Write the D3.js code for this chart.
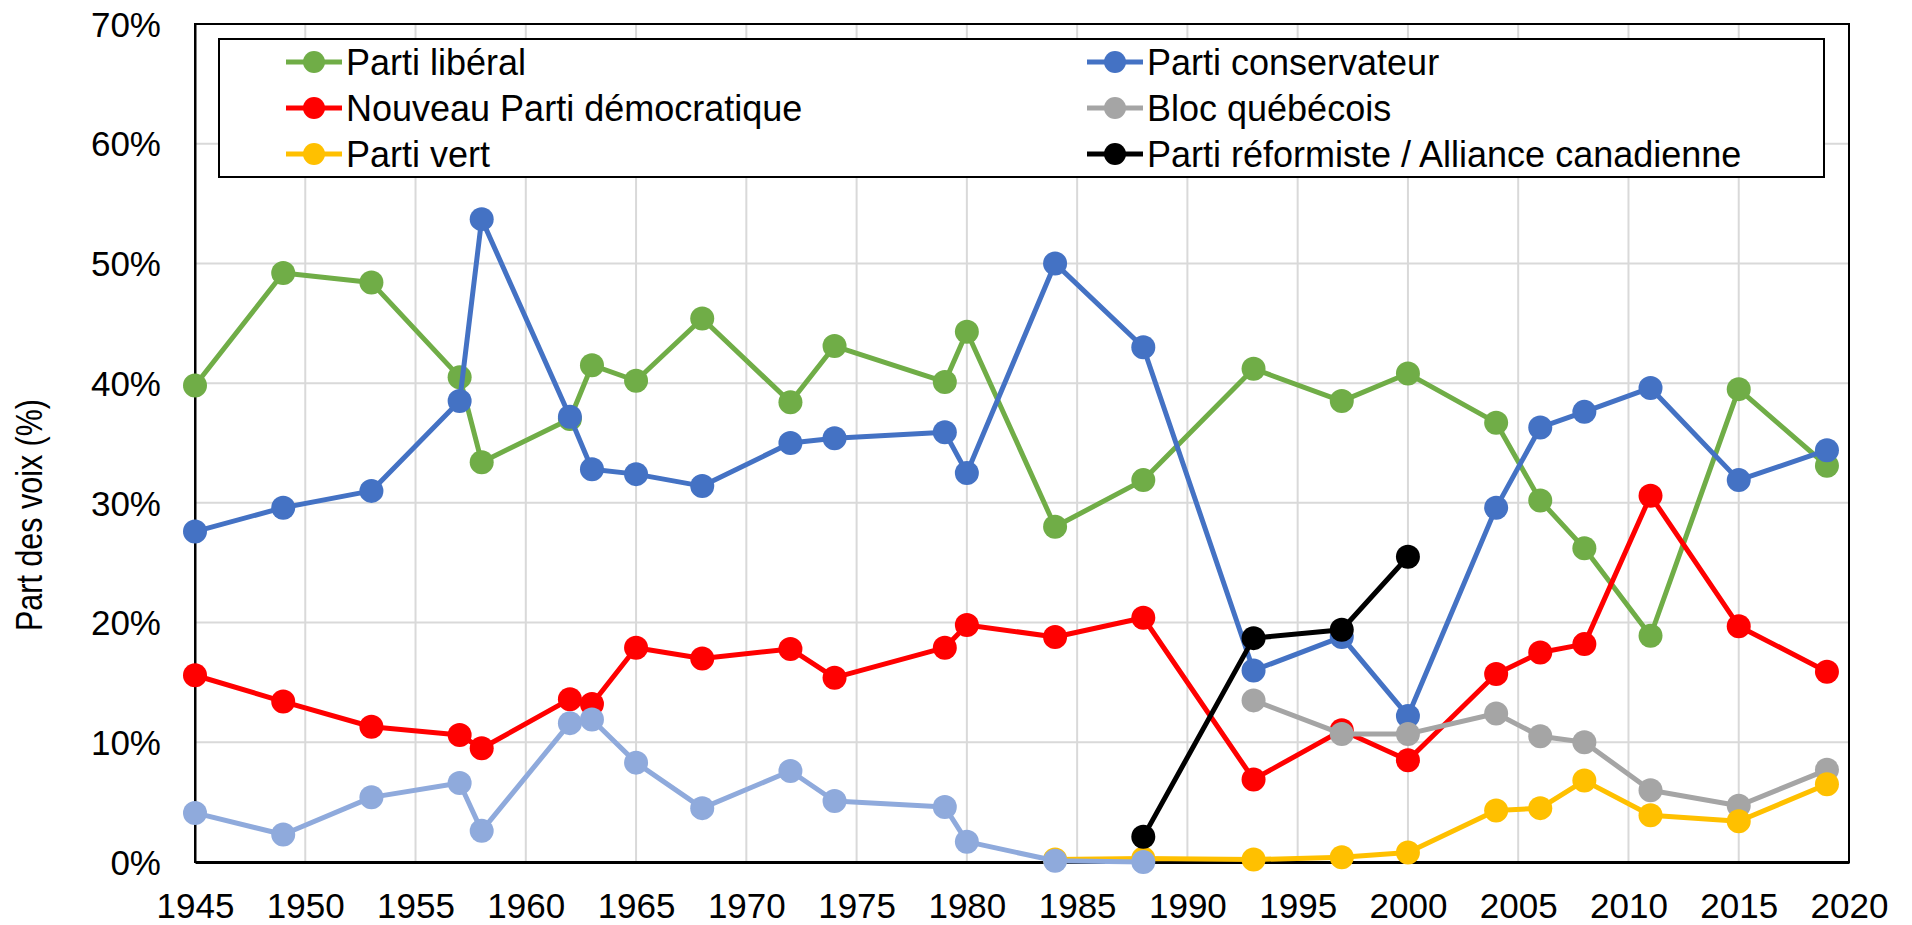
<!DOCTYPE html>
<html>
<head>
<meta charset="utf-8">
<script src="https://cdn.jsdelivr.net/npm/d3@7"></script>
<style>
    body { margin: 0; background: #fff; }
    text { font-family: "Liberation Sans", Arial, sans-serif; fill: #000; }
</style>
</head>
<body>
<div id="chart"></div>
<script>

// election years and vote shares (%)
const years = [1945, 1949, 1953, 1957, 1958, 1962, 1963, 1965, 1968, 1972, 1974, 1979, 1980, 1984, 1988, 1993, 1997, 2000, 2004, 2006, 2008, 2011, 2015, 2019]
const liberal = [39.8, 49.2, 48.4, 40.5, 33.4, 37.0, 41.5, 40.2, 45.4, 38.4, 43.1, 40.1, 44.3, 28.0, 31.9, 41.2, 38.5, 40.8, 36.7, 30.2, 26.2, 18.9, 39.5, 33.1]
const conservative = [27.6, 29.6, 31.0, 38.5, 53.7, 37.2, 32.8, 32.4, 31.4, 35.0, 35.4, 35.9, 32.5, 50.0, 43.0, 16.0, 18.8, 12.2, 29.6, 36.3, 37.6, 39.6, 31.9, 34.4]
const npd = [15.6, 13.4, 11.3, 10.6, 9.5, 13.6, 13.2, 17.9, 17.0, 17.8, 15.4, 17.9, 19.8, 18.8, 20.4, 6.9, 11.0, 8.5, 15.7, 17.5, 18.2, 30.6, 19.7, 15.9]

const blocYears = [1993, 1997, 2000, 2004, 2006, 2008, 2011, 2015, 2019]
const bloc = [13.5, 10.7, 10.7, 12.4, 10.5, 10.0, 6.0, 4.7, 7.7]

const vertYears = [1984, 1988, 1993, 1997, 2000, 2004, 2006, 2008, 2011, 2015, 2019]
const vert = [0.2, 0.3, 0.2, 0.4, 0.8, 4.3, 4.5, 6.8, 3.9, 3.4, 6.5]

const reformeYears = [1988, 1993, 1997, 2000]
const reforme = [2.1, 18.7, 19.4, 25.5]

// Crédit social / autres, not in the legend
const autresYears = [1945, 1949, 1953, 1957, 1958, 1962, 1963, 1965, 1968, 1972, 1974, 1979, 1980, 1984, 1988]
const autres = [4.1, 2.3, 5.4, 6.6, 2.6, 11.6, 11.9, 8.3, 4.5, 7.6, 5.1, 4.6, 1.7, 0.1, 0.0]

const xTicks = [1945, 1950, 1955, 1960, 1965, 1970, 1975, 1980, 1985, 1990, 1995, 2000, 2005, 2010, 2015, 2020]
const yTicks = [0, 10, 20, 30, 40, 50, 60, 70]

const series = [
    { name: "Parti libéral", x: years, y: liberal, colour: "#70ad47", col: 0, row: 0 },
    { name: "Parti conservateur", x: years, y: conservative, colour: "#4472c4", col: 1, row: 0 },
    { name: "Nouveau Parti démocratique", x: years, y: npd, colour: "#ff0000", col: 0, row: 1 },
    { name: "Bloc québécois", x: blocYears, y: bloc, colour: "#a5a5a5", col: 1, row: 1 },
    { name: "Parti vert", x: vertYears, y: vert, colour: "#ffc000", col: 0, row: 2 },
    { name: "Parti réformiste / Alliance canadienne", x: reformeYears, y: reforme, colour: "#000000", col: 1, row: 2 },
    { name: null, x: autresYears, y: autres, colour: "#8faadc" }
]

function lineChart({ element, width, height, margin }) {

    const svg = d3.select(`#${element}`)
        .html(null)
        .append("svg")
        .attr("width", width)
        .attr("height", height)

    const x = d3.scaleLinear()
        .domain([1945, 2020])
        .range([margin.left, width - margin.right])

    const y = d3.scaleLinear()
        .domain([0, 70])
        .range([height - margin.bottom, margin.top])

    // gridlines
    svg.append("g")
        .selectAll("line")
        .data(xTicks)
        .join("line")
        .attr("x1", d => x(d)).attr("x2", d => x(d))
        .attr("y1", y(0)).attr("y2", y(70))
        .attr("stroke", "#d9d9d9")
        .attr("stroke-width", 2)

    svg.append("g")
        .selectAll("line")
        .data(yTicks)
        .join("line")
        .attr("x1", x(1945)).attr("x2", x(2020))
        .attr("y1", d => y(d)).attr("y2", d => y(d))
        .attr("stroke", "#d9d9d9")
        .attr("stroke-width", 2)

    // plot frame
    svg.append("rect")
        .attr("x", x(1945))
        .attr("y", y(70))
        .attr("width", x(2020) - x(1945))
        .attr("height", y(0) - y(70))
        .attr("fill", "none")
        .attr("stroke", "#000")
        .attr("stroke-width", 2)

    // axes
    const xAxis = svg.append("g")
        .attr("transform", `translate(0,${y(0)})`)
        .call(d3.axisBottom(x)
            .tickValues(xTicks)
            .tickFormat(d3.format("d"))
            .tickSize(0)
            .tickPadding(31))
    xAxis.select(".domain").attr("stroke", "#000").attr("stroke-width", 3)
    xAxis.selectAll("text").style("font-size", "35px").attr("fill", "#000")

    const yAxis = svg.append("g")
        .attr("transform", `translate(${x(1945)},0)`)
        .call(d3.axisLeft(y)
            .tickValues(yTicks)
            .tickFormat(d => d + "%")
            .tickSize(0)
            .tickPadding(34))
    yAxis.select(".domain").attr("stroke", "#000").attr("stroke-width", 2)
    yAxis.selectAll("text").style("font-size", "35px").attr("fill", "#000").attr("dy", "0.35em")

    svg.append("text")
        .attr("transform", "translate(42,515) rotate(-90)")
        .attr("text-anchor", "middle")
        .attr("textLength", 232)
        .attr("lengthAdjust", "spacingAndGlyphs")
        .style("font-size", "36px")
        .text("Part des voix (%)")

    // series: lines then markers, later series on top
    const line = d3.line()
        .x(d => x(d[0]))
        .y(d => y(d[1]))

    series.forEach(s => {
        const pts = s.x.map((v, i) => [v, s.y[i]])
        const g = svg.append("g")
        g.append("path")
            .datum(pts)
            .attr("d", line)
            .attr("fill", "none")
            .attr("stroke", s.colour)
            .attr("stroke-width", 5)
            .attr("stroke-linejoin", "round")
        g.selectAll("circle")
            .data(pts)
            .join("circle")
            .attr("cx", d => x(d[0]))
            .attr("cy", d => y(d[1]))
            .attr("r", 12)
            .attr("fill", s.colour)
    })

    // legend
    const legend = svg.append("g")
    legend.append("rect")
        .attr("x", 219)
        .attr("y", 39)
        .attr("width", 1605)
        .attr("height", 138)
        .attr("fill", "#fff")
        .attr("stroke", "#000")
        .attr("stroke-width", 2)

    const colX = [286, 1087]
    const item = legend.selectAll("g")
        .data(series.filter(s => s.name))
        .join("g")
        .attr("transform", d => `translate(${colX[d.col]},${62 + d.row * 46})`)

    item.append("line")
        .attr("x1", 0).attr("x2", 56)
        .attr("stroke", d => d.colour)
        .attr("stroke-width", 5)
    item.append("circle")
        .attr("cx", 28)
        .attr("r", 11)
        .attr("fill", d => d.colour)
    item.append("text")
        .attr("x", 60)
        .attr("dy", "0.35em")
        .style("font-size", "36px")
        .text(d => d.name)

    return svg.node()
}

lineChart({
    element: "chart",
    width: 1912,
    height: 925,
    margin: { top: 24, right: 63, bottom: 63, left: 195 }
})

</script>
</body>
</html>
